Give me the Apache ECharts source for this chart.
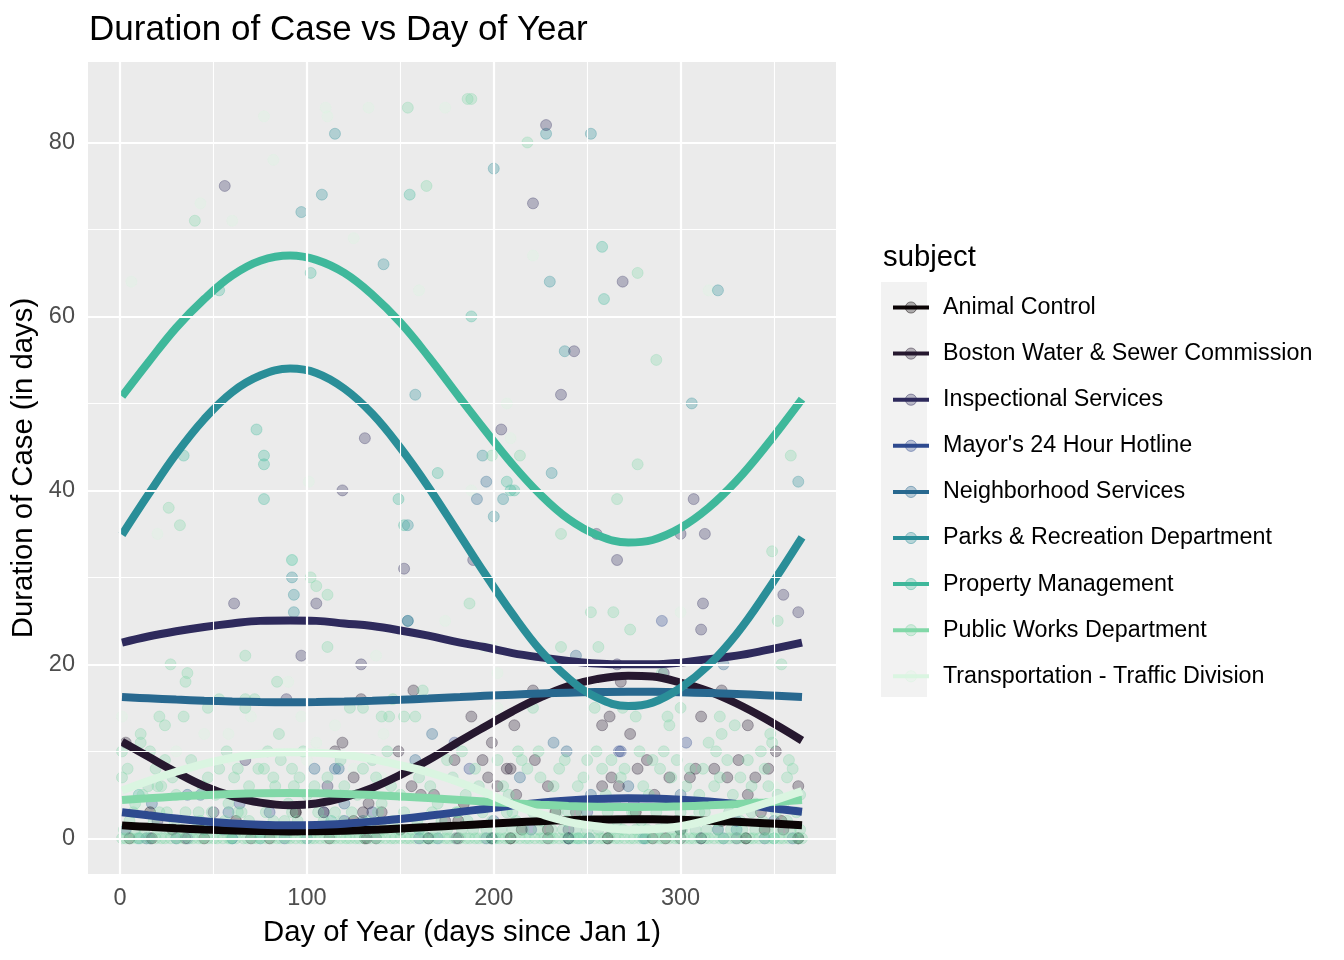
<!DOCTYPE html>
<html><head><meta charset="utf-8">
<script src="https://cdn.jsdelivr.net/npm/echarts@6/dist/echarts.min.js"></script>
<style>html,body{margin:0;padding:0;background:#fff}#c{width:1344px;height:960px}</style>
</head><body><div id="c"></div>
<script>
const subjects = ['Animal Control','Boston Water & Sewer Commission','Inspectional Services',"Mayor's 24 Hour Hotline",'Neighborhood Services','Parks & Recreation Department','Property Management','Public Works Department','Transportation - Traffic Division'];
const colors = ['#0B0405','#26182F','#2E2A5C','#2E4A8F','#28688F','#2A8E98','#3FB89B','#82D8A8','#DAF5E1'];
const xTickValues = [0,100,200,300];
const yTickValues = [0,20,40,60,80];
const xMinorValues = [50,150,250,350];
const yMinorValues = [10,30,50,70];

// smoothed trend values
const smoothDays = [1,15,30,45,60,75,91,105,120,135,150,165,182,195,210,225,240,255,272,285,300,315,330,345,365];
const fitAnimal = [1.49,1.32,1.15,1.01,0.90,0.83,0.80,0.82,0.88,0.99,1.13,1.29,1.49,1.65,1.82,1.97,2.09,2.16,2.20,2.19,2.13,2.03,1.90,1.74,1.50];
const fitBoston = [11.1,9.4,7.6,6.0,4.85,4.1,3.8,4.0,4.7,5.8,7.3,9.0,11.2,12.8,14.6,16.2,17.5,18.3,18.7,18.6,17.9,16.9,15.5,13.8,11.25];
const fitInspectional = [22.5,23.2,23.8,24.3,24.7,25.0,25.05,25.0,24.7,24.4,23.9,23.3,22.5,22.0,21.3,20.8,20.4,20.1,20.0,20.0,20.2,20.6,21.0,21.6,22.5];
const fitMayor = [3.0,2.65,2.28,1.97,1.72,1.56,1.50,1.54,1.69,1.92,2.23,2.59,3.04,3.38,3.76,4.10,4.35,4.52,4.60,4.57,4.44,4.23,3.94,3.57,3.05];
const fitNeighborhood = [16.24,16.10,15.95,15.83,15.73,15.67,15.65,15.67,15.72,15.81,15.93,16.07,16.24,16.38,16.52,16.65,16.75,16.82,16.85,16.84,16.79,16.70,16.59,16.45,16.25];
const fitParks = [34.9,39.5,44.2,48.2,51.3,53.2,54.0,53.5,51.7,48.8,44.9,40.4,34.8,30.5,25.8,21.6,18.4,16.2,15.2,15.6,17.3,19.9,23.5,28.0,34.6];
const fitProperty = [50.8,54.7,58.7,62.0,64.7,66.4,67.0,66.5,65.0,62.5,59.3,55.4,50.6,47.0,43.0,39.5,36.7,34.9,34.0,34.3,35.7,38.0,41.1,44.9,50.5];
const fitPublicWorks = [4.41,4.60,4.80,4.96,5.09,5.17,5.20,5.18,5.10,4.98,4.82,4.64,4.41,4.23,4.04,3.87,3.73,3.64,3.60,3.62,3.68,3.79,3.94,4.13,4.40];
const fitTransportation = [5.5,6.6,7.65,8.56,9.27,9.73,9.9,9.85,9.6,9.1,8.4,7.6,6.4,5.3,3.9,2.8,1.9,1.4,1.0,1.05,1.4,2.1,3.0,4.0,5.45];

// case points [day, duration]
const ptsAnimal = [[5,0],[17,0],[28,1],[45,0],[62,2],[80,0],[95,1],[112,0],[131,0],[150,1],[165,0],[181,2],[199,0],[209,0],[229,1],[240,0],[261,0],[276,3],[285,0],[300,1],[311,0],[322,2],[335,0],[345,1],[354,2],[363,0],[184,4],[233,3],[94,3],[16,3],[70,1],[125,2],[215,1],[292,0]];
const ptsBoston = [[3,11],[35,0],[70,0],[94,3],[109,3],[115,10],[119,11],[125,7],[129,16],[130,3],[132,0],[133,4],[137,0],[140,3],[149,10],[156,6],[157,17],[161,5],[168,5],[174,2],[179,9],[181,0],[188,14],[194,9],[197,7],[199,11],[202,6],[207,8],[209,8],[209,0],[211,13],[212,5],[221,17],[222,9],[229,6],[229,0],[236,4],[244,3],[258,13],[258,6],[261,0],[262,14],[263,7],[267,6],[268,18],[273,12],[277,8],[282,9],[286,5],[294,7],[298,2],[300,0],[305,7],[308,8],[311,14],[318,8],[322,17],[325,7],[331,9],[335,0],[336,5],[336,13],[340,7],[343,3],[347,8],[351,10],[355,1],[363,6],[363,0]];
const ptsInspectional = [[56,75],[228,82],[221,73],[269,64],[243,56],[236,51],[131,46],[204,47],[119,40],[307,39],[189,32],[266,32],[255,35],[300,35],[313,35],[355,28],[363,26],[61,27],[105,27],[97,21],[89,16],[129,20],[312,27],[311,24],[291,19],[266,20],[67,9],[50,3],[111,6],[152,31],[20,2],[180,0],[240,1],[330,0]];
const ptsMayor = [[3,1],[14,0],[36,0],[64,4],[80,3],[88,0],[109,3],[135,3],[179,11],[196,0],[240,0],[290,25],[303,11],[267,10],[268,10],[311,0],[345,0],[30,0],[55,1],[120,2],[160,0],[200,2],[220,1],[250,3],[275,4],[330,2],[360,0],[187,8],[16,0],[251,0],[320,1]];
const ptsNeighborhood = [[244,21],[232,11],[239,10],[323,20],[104,8],[115,8],[117,8],[120,4],[36,5],[43,5],[17,4],[214,7],[272,6],[252,5],[300,5],[154,25],[165,0],[199,0],[240,0],[323,0],[58,3],[167,12],[158,9],[170,0],[60,0],[100,0],[281,0],[350,2],[196,41],[191,39]];
const ptsParks = [[115,81],[228,81],[252,81],[200,77],[108,74],[97,72],[141,66],[230,64],[320,63],[158,51],[306,50],[238,56],[194,44],[231,42],[205,39],[363,41],[200,37],[154,36],[92,30],[93,28],[93,26],[154,25],[10,0],[45,1],[75,0],[130,2],[280,0],[330,1]];
const ptsProperty = [[155,74],[258,68],[259,62],[188,60],[53,63],[102,65],[73,47],[77,44],[77,43],[77,39],[34,44],[170,42],[149,39],[152,36],[209,40],[211,40],[207,41],[92,32],[113,2],[200,0],[300,1],[10,5],[60,0],[160,1],[245,0],[350,0]];
const ptsPublicWorks = [[154,84],[186,85],[188,85],[218,80],[164,75],[40,71],[277,65],[287,55],[199,44],[214,44],[277,43],[359,44],[266,39],[236,35],[349,33],[187,27],[252,26],[264,26],[352,25],[273,24],[236,22],[256,22],[354,20],[111,22],[67,21],[27,20],[36,19],[35,18],[84,18],[21,14],[24,13],[34,14],[47,15],[53,16],[67,16],[72,16],[67,15],[85,12],[11,12],[11,11],[1,10],[4,8],[16,10],[24,9],[19,8],[1,7],[15,6],[22,6],[47,7],[53,8],[61,7],[74,8],[77,8],[82,7],[83,6],[93,6],[96,7],[111,7],[102,30],[105,29],[111,28],[162,17],[146,16],[123,15],[130,15],[140,14],[144,14],[152,14],[158,14],[221,15],[213,10],[254,15],[269,15],[300,15],[276,14],[293,14],[294,13],[321,14],[322,12],[329,13],[315,11],[348,12],[349,11],[255,10],[263,9],[291,10],[319,10],[343,10],[357,7],[290,19],[32,36],[26,38],
 [130,8],[145,6],[160,7],[175,9],[185,5],[190,8],[205,6],[215,9],[225,7],[235,8],[245,6],[250,9],[260,5],[270,8],[280,6],[285,9],[295,7],[305,8],[310,5],[318,6],[325,9],[332,7],[338,6],[345,8],[352,5],[360,8],[120,6],[135,9],[150,5],[170,4],[195,4],[230,4],[265,4],[315,4],[340,4],[8,4],[30,5],[42,3],[58,4],[90,4],[100,5],[115,3],[140,4],[180,3],[210,3],[240,3],[275,3],[310,3],[355,4],[25,3],[65,3],[88,2],
 [12,5],[20,6],[28,7],[38,9],[44,6],[51,5],[57,10],[63,8],[69,6],[79,10],[86,9],[92,8],[98,10],[104,6],[118,9],[127,5],[137,7],[143,10],[155,8],[166,6],[178,7],[183,10],[192,6],[202,9],[208,5],[218,8],[224,10],[232,6],[238,9],[248,7],[258,8],[268,7],[278,10],[283,5],[289,8],[298,9],[303,6],[312,8],[321,7],[328,5],[336,9],[347,6],[358,9],[364,5]];
const publicWorksZeroDays = [1,3,6,9,11,14,16,19,22,24,27,30,31,34,37,39,42,44,47,50,52,55,58,59,62,66,68,71,73,75,78,81,84,86,89,91,94,97,99,102,104,107,110,113,115,118,121,123,126,128,131,134,137,139,142,145,147,150,153,155,158,161,163,166,168,171,174,176,179,182,185,187,190,192,195,198,201,203,206,208,211,214,217,219,222,225,227,230,232,235,238,241,243,246,248,251,254,257,259,262,265,267,270,273,275,278,281,283,286,289,291,294,297,299,302,305,307,310,313,315,318,321,323,326,329,331,334,337,339,342,345,347,350,353,355,358,361,363,365];
const publicWorksOneDays = [2,8,13,20,26,33,40,46,53,57,64,70,77,83,90,96,101,108,116,122,129,135,141,149,156,162,169,175,183,189,196,204,210,216,224,231,237,244,250,256,263,269,276,282,288,295,301,308,314,320,327,333,340,346,352,359,364];
const publicWorksTwoDays = [5,18,29,43,56,69,82,95,109,119,133,146,159,172,186,199,212,226,239,253,266,279,292,306,319,332,344,357];
const publicWorksThreeDays = [7,21,35,49,63,78,92,106,124,138,152,167,181,194,207,221,234,247,261,274,287,300,313,326,338,351,362];
const ptsTransportation = [[77,83],[110,84],[111,83],[133,84],[174,84],[82,78],[43,73],[60,71],[125,69],[76,66],[6,64],[160,63],[221,67],[315,63],[207,50],[209,46],[188,40],[101,41],[20,35],[92,32],[300,26],[202,19],[137,21],[97,14],[58,12],[1,14],[141,12],[202,15],[174,25],[188,6],[195,22],[200,22],[30,10],[45,12],[70,14],[90,18],[100,9],[115,13],[125,8],[60,9],[150,5],[250,0],[270,1],[280,0],[300,2],[330,3],[350,6],[10,4],[120,0],[5,0],[180,3],[200,1],[230,0],[40,2],[80,5],[105,11],[140,7],[160,2]];

const fits = [fitAnimal,fitBoston,fitInspectional,fitMayor,fitNeighborhood,fitParks,fitProperty,fitPublicWorks,fitTransportation];
const pwAll = ptsPublicWorks
  .concat(publicWorksZeroDays.map(d => [d, 0]))
  .concat(publicWorksOneDays.map(d => [d, 1]))
  .concat(publicWorksTwoDays.map(d => [d, 2]))
  .concat(publicWorksThreeDays.map(d => [d, 3]));
const points = [ptsAnimal,ptsBoston,ptsInspectional,ptsMayor,ptsNeighborhood,ptsParks,ptsProperty,pwAll,ptsTransportation];

const FONT = "'Liberation Sans', Arial, Helvetica, sans-serif";
function rgba(hex, a) {
  const n = parseInt(hex.slice(1), 16);
  return 'rgba(' + (n >> 16 & 255) + ',' + (n >> 8 & 255) + ',' + (n & 255) + ',' + a + ')';
}

const series = [];
// trend lines first (legend picks their icon)
subjects.forEach((s, i) => {
  series.push({
    type: 'line', name: s, z: 4 + i * 0.01, smooth: 0.4, showSymbol: false, symbol: 'circle',
    data: smoothDays.map((d, k) => [d, fits[i][k]]),
    lineStyle: { color: colors[i], width: 8 }, itemStyle: { color: colors[i] },
    silent: true, animation: false
  });
});
// scatter points
const scatterOrder = [8,6,5,4,3,2,1,0,7];
scatterOrder.forEach(i => {
  series.push({
    type: 'scatter', name: subjects[i], z: 2, symbolSize: 11,
    data: points[i],
    itemStyle: { color: colors[i], opacity: 0.3, borderColor: colors[i], borderWidth: 1 },
    silent: true, animation: false
  });
});
// panel grid lines
const gridLineData = []
  .concat(xMinorValues.map(v => ({ xAxis: v, lineStyle: { color: '#fff', width: 1.1, type: 'solid' } })))
  .concat(yMinorValues.map(v => ({ yAxis: v, lineStyle: { color: '#fff', width: 1.1, type: 'solid' } })))
  .concat(xTickValues.map(v => ({ xAxis: v, lineStyle: { color: '#fff', width: 2.2, type: 'solid' } })))
  .concat(yTickValues.map(v => ({ yAxis: v, lineStyle: { color: '#fff', width: 2.2, type: 'solid' } })));
series.push({
  type: 'scatter', name: '_grid', data: [], z: 1, silent: true,
  markLine: { silent: true, symbol: ['none','none'], label: { show: false }, animation: false, emphasis: { disabled: true }, data: gridLineData }
});

const option = {
  animation: false,
  backgroundColor: '#ffffff',
  textStyle: { fontFamily: FONT },
  title: [
    { text: 'Duration of Case vs Day of Year', left: 84, top: 8, textStyle: { fontFamily: FONT, fontSize: 35, fontWeight: 'normal', color: '#000' } },
    { text: 'subject', left: 878, top: 238, textStyle: { fontFamily: FONT, fontSize: 29.3, fontWeight: 'normal', color: '#000' } }
  ],
  graphic: [
    { type: 'rect', left: 881, top: 282, shape: { width: 46, height: 415 }, style: { fill: '#F2F2F2' }, z: 0, silent: true }
  ],
  legend: {
    orient: 'vertical', left: 886, top: 291, itemWidth: 36, itemHeight: 14, itemGap: 23.1,
    selectedMode: false, z: 10,
    data: subjects.map((s, i) => ({ name: s, itemStyle: { color: rgba(colors[i], 0.3), borderColor: rgba(colors[i], 0.45), borderWidth: 1 } })),
    lineStyle: { width: 4 },
    textStyle: { fontFamily: FONT, fontSize: 23.3, color: '#000', padding: [0, 0, 0, 9] }
  },
  grid: { left: 88, top: 62, width: 748, height: 812, show: true, backgroundColor: '#EBEBEB', borderWidth: 0, containLabel: false },
  xAxis: {
    type: 'value', min: -17.2, max: 383.2,
    name: 'Day of Year (days since Jan 1)', nameLocation: 'middle', nameGap: 44,
    nameTextStyle: { fontFamily: FONT, fontSize: 29.3, color: '#000' },
    axisLine: { show: false },
    axisTick: { show: true, customValues: xTickValues, length: 7, lineStyle: { color: '#333333', width: 2 } },
    axisLabel: { customValues: xTickValues, margin: 13, fontFamily: FONT, fontSize: 23.5, color: '#4D4D4D' },
    splitLine: { show: false }, minorSplitLine: { show: false }
  },
  yAxis: {
    type: 'value', min: -4.1, max: 89.25,
    name: 'Duration of Case (in days)', nameLocation: 'middle', nameGap: 48, nameRotate: 90,
    nameTextStyle: { fontFamily: FONT, fontSize: 29.3, color: '#000' },
    axisLine: { show: false },
    axisTick: { show: true, customValues: yTickValues, length: 7, lineStyle: { color: '#333333', width: 2 } },
    axisLabel: { customValues: yTickValues, margin: 13, fontFamily: FONT, fontSize: 23.5, color: '#4D4D4D' },
    splitLine: { show: false }, minorSplitLine: { show: false }
  },
  series: series
};
const chart = echarts.init(document.getElementById('c'), null, { renderer: 'canvas' });
chart.setOption(option);
</script></body></html>
